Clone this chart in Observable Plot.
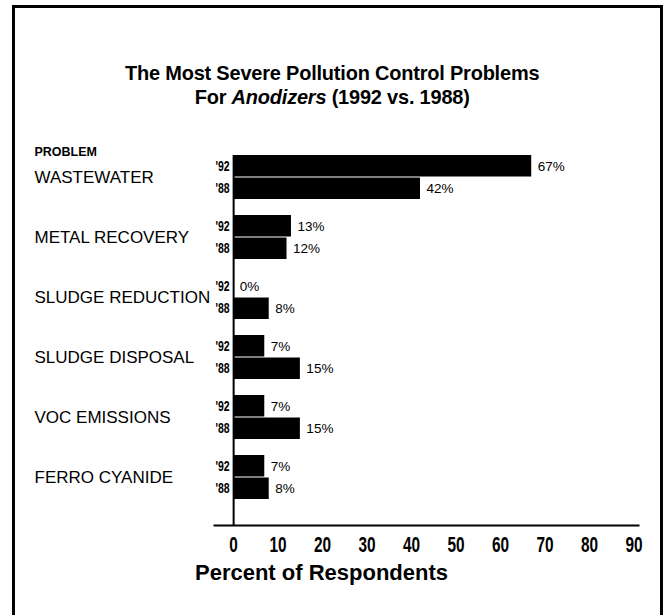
<!DOCTYPE html>
<html>
<head>
<meta charset="utf-8">
<script src="https://cdn.jsdelivr.net/npm/d3@7"></script>
<script src="https://cdn.jsdelivr.net/npm/@observablehq/plot@0.6"></script>
<style>
  html, body { margin: 0; padding: 0; background: #fff; }
  #page { position: relative; width: 665px; height: 615px; overflow: hidden; background: #fff; }
  #box { position: absolute; left: 12px; top: 5px; width: 645px; height: 700px;
         border: 3px solid #000; border-bottom: none; }
  #title { position: absolute; left: 0; top: 61px; width: 665px; text-align: center;
           font-family: "Liberation Sans", Arial, sans-serif;
           font-weight: bold; font-size: 21px; line-height: 24px; color: #000;
           transform: scaleX(0.95); transform-origin: 326px 0; letter-spacing: -0.2px; }
  #chart { position: absolute; left: 0; top: 120px; }
</style>
</head>
<body>
<div id="page">
  <div id="box"></div>
  <div id="title">The Most Severe Pollution Control Problems<br>For <i>Anodizers</i> (1992 vs. 1988)</div>
  <div id="chart"></div>
</div>
<script>
// Survey categories and percent of respondents naming each one
const problems = ["WASTEWATER", "METAL RECOVERY", "SLUDGE REDUCTION", "SLUDGE DISPOSAL", "VOC EMISSIONS", "FERRO CYANIDE"];
const pct1992 = [67, 13, 0, 7, 7, 7];
const pct1988 = [42, 12, 8, 15, 15, 8];
const yearLabels = ["'92", "'88"];
const xTicks = [0, 10, 20, 30, 40, 50, 60, 70, 80, 90];
const xLabel = "Percent of Respondents";
const rowHeader = "PROBLEM";

const rows92 = problems.map((p, i) => ({problem: p, year: yearLabels[0], value: pct1992[i], origin: 0}));
const rows88 = problems.map((p, i) => ({problem: p, year: yearLabels[1], value: pct1988[i], origin: 0}));

const sans = "Liberation Sans, Arial, sans-serif";
const half = 22.5; // half of the band: '92 on top, '88 below

const chart = Plot.plot({
  width: 665,
  height: 495,
  marginTop: 35,
  marginBottom: 90,
  marginLeft: 214,
  marginRight: 27,
  style: {background: "transparent", color: "#000", fontFamily: sans},
  x: {domain: [-4.3, 91]},
  y: {domain: problems, paddingInner: 0.262, paddingOuter: 0.164, align: 0, axis: null},
  marks: [
    Plot.barX(rows92, {x: "value", y: "problem", fill: "#000", insetBottom: half, insetTop: 0}),
    Plot.barX(rows88, {x: "value", y: "problem", fill: "#000", insetTop: half, insetBottom: 0}),
    Plot.ruleX([0], {stroke: "#000", strokeWidth: 2}),
    Plot.frame({anchor: "bottom", stroke: "#000", strokeWidth: 2}),
    // year markers beside the zero line
    Plot.text(rows92, {x: "origin", y: "problem", text: "year", dx: -4, dy: -half / 2, textAnchor: "end",
      fontWeight: "bold", fontSize: 14}),
    Plot.text(rows88, {x: "origin", y: "problem", text: "year", dx: -4, dy: half / 2, textAnchor: "end",
      fontWeight: "bold", fontSize: 14}),
    // value labels at the bar ends
    Plot.text(rows92, {x: "value", y: "problem", text: d => `${d.value}%`, dx: 6, dy: -half / 2, textAnchor: "start",
      fontSize: 13.5, letterSpacing: "-0.7px"}),
    Plot.text(rows88, {x: "value", y: "problem", text: d => `${d.value}%`, dx: 6, dy: half / 2, textAnchor: "start",
      fontSize: 13.5, letterSpacing: "-0.7px"}),
    // category names
    Plot.text(problems, {y: d => d, frameAnchor: "left", dx: -180, textAnchor: "start",
      fontSize: 17, letterSpacing: "-0.8px"}),
    Plot.text([rowHeader], {frameAnchor: "top-left", dx: -180, dy: -8, textAnchor: "start",
      fontWeight: "bold", fontSize: 12.5, letterSpacing: "-0.3px"}),
    Plot.axisX(xTicks, {tickSize: 0, tickPadding: 11, fontWeight: "bold", fontSize: 22, label: null}),
    Plot.text([xLabel], {frameAnchor: "bottom-left", dx: 107, dy: 54, textAnchor: "middle",
      fontWeight: "bold", fontSize: 22, letterSpacing: "-0.4px"})
  ]
});

// Narrow the bold numerals (tick values and year markers) horizontally around their anchors
function narrowText(group, factor) {
  if (!group) return;
  group.querySelectorAll("text").forEach(t => {
    const tr = t.getAttribute("transform");
    if (tr) t.setAttribute("transform", `${tr} scale(${factor},1)`);
  });
}
const textGroups = chart.querySelectorAll('g[aria-label="text"]');
narrowText(textGroups[0], 0.75);
narrowText(textGroups[1], 0.75);
narrowText(chart.querySelector('g[aria-label="x-axis tick label"]'), 0.7);

document.getElementById("chart").appendChild(chart);
</script>
</body>
</html>
